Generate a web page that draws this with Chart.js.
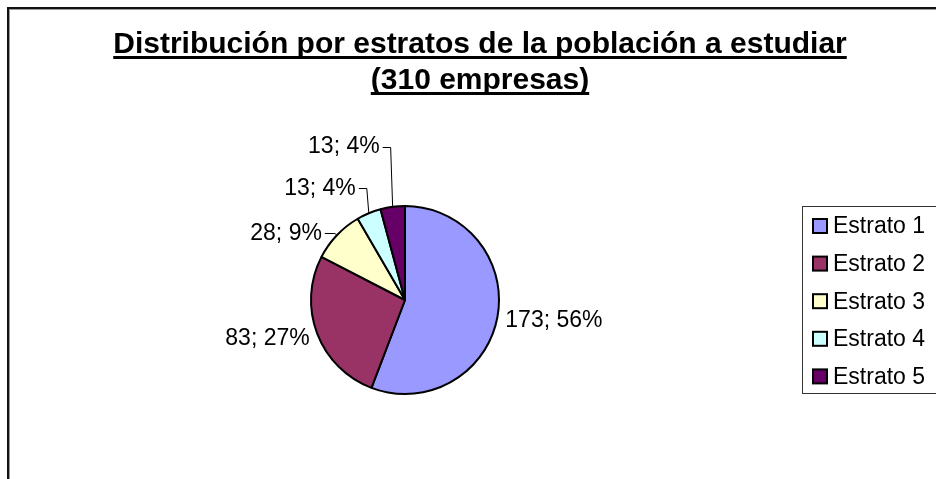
<!DOCTYPE html>
<html>
<head>
<meta charset="utf-8">
<script src="https://cdn.jsdelivr.net/npm/chart.js@4.4.1/dist/chart.umd.min.js"></script>
<style>
  html, body { margin: 0; padding: 0; background: #fff; }
  canvas { display: block; }
</style>
</head>
<body>
<canvas id="chart" width="936" height="479"></canvas>
<script>
const titleLines = ['Distribución por estratos de la población a estudiar', '(310 empresas)'];
const strata = ['Estrato 1', 'Estrato 2', 'Estrato 3', 'Estrato 4', 'Estrato 5'];
const companies = [173, 83, 28, 13, 13];
const sliceColors = ['#9999ff', '#993366', '#ffffcc', '#ccffff', '#660066'];
// small slices get their label pulled away with a leader line: [dx, dy] from the slice edge
const labelShift = [null, null, [-15, -2], [-13, -25], [-13, -60]];

const FONT = '"Liberation Sans", Arial, sans-serif';

const framePlugin = {
  id: 'frame',
  beforeDraw(chart) {
    const { ctx, width, height } = chart;
    ctx.save();
    ctx.fillStyle = '#fff';
    ctx.fillRect(0, 0, width, height);
    ctx.fillStyle = '#111';
    ctx.fillRect(7, 7, width - 7, 2);
    ctx.fillRect(7, 7, 2, height - 7);
    ctx.fillStyle = '#999';
    ctx.fillRect(9, 9, width - 9, 1);
    ctx.fillRect(9, 9, 1, height - 9);
    ctx.restore();
  },
};

const titlePlugin = {
  id: 'ulTitle',
  afterDraw(chart) {
    const { ctx } = chart;
    ctx.save();
    ctx.font = `bold 30px ${FONT}`;
    ctx.fillStyle = '#000';
    ctx.textAlign = 'center';
    ctx.textBaseline = 'alphabetic';
    titleLines.forEach((line, i) => {
      const y = 53 + i * 36;
      const w = ctx.measureText(line).width;
      ctx.fillText(line, 480, y);
      ctx.fillRect(480 - w / 2, y + 3, w, 3);
    });
    ctx.restore();
  },
};

const labelPlugin = {
  id: 'sliceLabels',
  afterDatasetsDraw(chart) {
    const { ctx } = chart;
    const meta = chart.getDatasetMeta(0);
    const total = companies.reduce((a, b) => a + b, 0);
    ctx.save();
    ctx.font = `23px ${FONT}`;
    ctx.fillStyle = '#000';
    ctx.strokeStyle = '#000';
    ctx.lineWidth = 1;
    ctx.textBaseline = 'middle';
    meta.data.forEach((arc, i) => {
      const { x, y, startAngle, endAngle, outerRadius } = arc.getProps(['x', 'y', 'startAngle', 'endAngle', 'outerRadius'], true);
      const mid = (startAngle + endAngle) / 2;
      const text = `${companies[i]}; ${Math.round((companies[i] / total) * 100)}%`;
      const shift = labelShift[i];
      if (!shift) {
        const r = outerRadius + 8;
        const lx = x + Math.cos(mid) * r;
        const ly = y + Math.sin(mid) * r + 2;
        ctx.textAlign = Math.cos(mid) >= 0 ? 'left' : 'right';
        ctx.fillText(text, lx, ly);
        return;
      }
      const ax = x + Math.cos(mid) * outerRadius;
      const ay = y + Math.sin(mid) * outerRadius;
      const tx = ax + shift[0];
      const ty = ay + shift[1];
      ctx.textAlign = 'right';
      ctx.fillText(text, tx, ty);
      ctx.beginPath();
      ctx.moveTo(tx + 3, Math.round(ty) + 0.5);
      ctx.lineTo(ax - 2, Math.round(ty) + 0.5);
      ctx.lineTo(ax, ay);
      ctx.stroke();
    });
    ctx.restore();
  },
};

const legendPlugin = {
  id: 'boxLegend',
  afterDraw(chart) {
    const { ctx } = chart;
    ctx.save();
    ctx.strokeStyle = '#333';
    ctx.lineWidth = 1;
    ctx.strokeRect(802.5, 206.5, 200, 187);
    ctx.font = `23px ${FONT}`;
    ctx.textAlign = 'left';
    ctx.textBaseline = 'middle';
    strata.forEach((name, i) => {
      const yc = 226 + i * 37.6;
      ctx.fillStyle = sliceColors[i];
      ctx.fillRect(813, yc - 7, 14, 14);
      ctx.strokeStyle = '#000';
      ctx.lineWidth = 2;
      ctx.strokeRect(813, yc - 7, 14, 14);
      ctx.fillStyle = '#000';
      ctx.fillText(name, 833, yc + 1);
    });
    ctx.restore();
  },
};

new Chart(document.getElementById('chart'), {
  type: 'pie',
  data: {
    labels: strata,
    datasets: [{
      data: companies,
      backgroundColor: sliceColors,
      borderColor: '#000',
      borderWidth: 2,
      hoverOffset: 0,
    }],
  },
  options: {
    responsive: false,
    animation: false,
    events: [],
    layout: { padding: { left: 310, right: 436, top: 205, bottom: 84 } },
    plugins: {
      legend: { display: false },
      title: { display: false },
      tooltip: { enabled: false },
    },
  },
  plugins: [framePlugin, titlePlugin, labelPlugin, legendPlugin],
});
</script>
</body>
</html>
